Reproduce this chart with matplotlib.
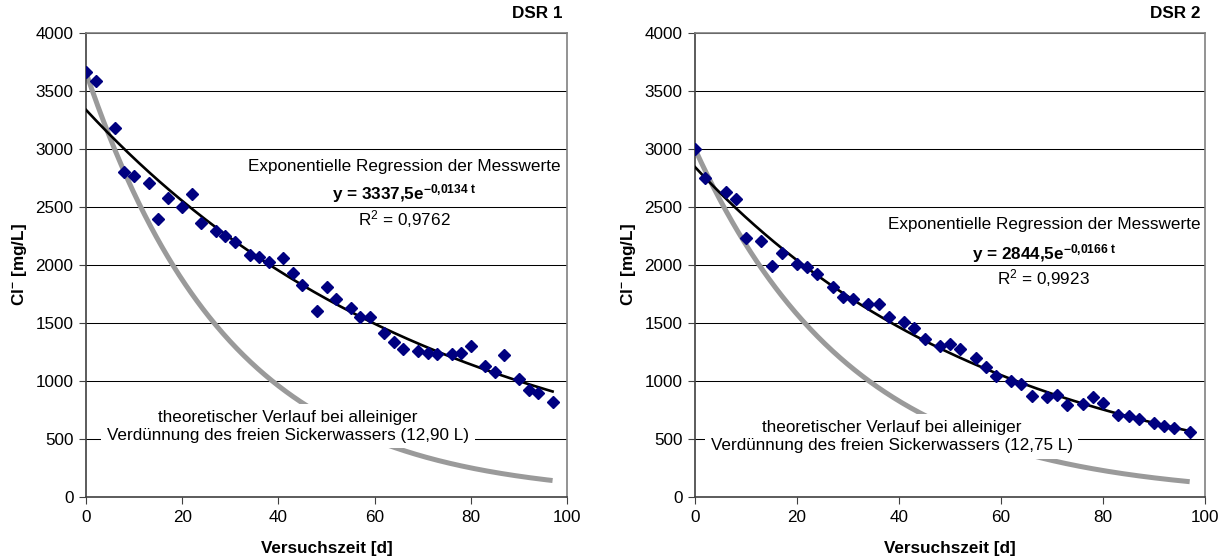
import numpy as np
import matplotlib
matplotlib.use('Agg')
import matplotlib.pyplot as plt

plt.rcParams['font.family'] = ['Liberation Sans', 'DejaVu Sans']
plt.rcParams['mathtext.fontset'] = 'custom'
plt.rcParams['mathtext.rm'] = 'Liberation Sans'
plt.rcParams['mathtext.it'] = 'Liberation Sans:italic'
plt.rcParams['mathtext.bf'] = 'Liberation Sans:bold'

# ---------------- data ----------------
t_days = [0, 2, 6, 8, 10, 13, 15, 17, 20, 22, 24, 27, 29, 31, 34, 36, 38, 41, 43, 45,
          48, 50, 52, 55, 57, 59, 62, 64, 66, 69, 71, 73, 76, 78, 80, 83, 85, 87, 90,
          92, 94, 97]

cl_dsr1 = [3660, 3590, 3180, 2800, 2770, 2710, 2400, 2580, 2500, 2610, 2360, 2290,
           2250, 2200, 2090, 2070, 2030, 2060, 1930, 1830, 1600, 1810, 1710, 1630,
           1550, 1550, 1410, 1340, 1280, 1260, 1240, 1235, 1235, 1240, 1300, 1130,
           1080, 1225, 1020, 925, 895, 815]

cl_dsr2 = [3000, 2750, 2630, 2570, 2230, 2210, 1990, 2100, 2010, 1980, 1925, 1810,
           1725, 1710, 1665, 1660, 1550, 1510, 1460, 1360, 1300, 1315, 1275, 1195,
           1120, 1040, 1000, 975, 870, 865, 880, 790, 800, 860, 810, 705, 695, 672,
           640, 615, 597, 563]

panel_titles = ['DSR 1', 'DSR 2']
fit_a = [3337.5, 2844.5]          # regression y = a * exp(-b t)
fit_b = [0.0134, 0.0166]
fit_a_txt = ['3337,5', '2844,5']
fit_b_txt = ['0{,}0134', '0{,}0166']
r2_txt = ['0,9762', '0,9923']
theo_c0 = [3660, 3000]            # theoretical dilution curve
theo_k = [0.0335, 0.0322]
volume_txt = ['12,90', '12,75']

x_ticks = [0, 20, 40, 60, 80, 100]
y_ticks = [0, 500, 1000, 1500, 2000, 2500, 3000, 3500, 4000]

x_label = 'Versuchszeit [d]'
y_label = r'Cl$^{\mathbf{-}}$ [mg/L]'

# label positions (data coordinates)
fit_label_pos = [(66.1, [2810, 2569, 2345]), (68.4, [2310, 2052, 1836])]
theo_label_pos = [(42.0, 612), (38.6, 521)]

# ---------------- figure ----------------
W, H = 1220, 558
fig = plt.figure(figsize=(W / 100, H / 100), dpi=100)
axes_px = [(86, 481), (695, 510)]
FS = 12.3

series = [cl_dsr1, cl_dsr2]
for i, (x0, w) in enumerate(axes_px):
    ax = fig.add_axes([x0 / W, 61 / H, w / W, 464 / H])
    ax.set_xlim(0, 100)
    ax.set_ylim(0, 4000)
    ax.set_xticks(x_ticks)
    ax.set_yticks(y_ticks)
    ax.tick_params(direction='out', length=5, width=0.8, color='#404040',
                   labelsize=FS, pad=4)
    ax.grid(axis='y', color='black', linewidth=0.75, zorder=0)
    ax.set_axisbelow(True)
    for s in ['top', 'right']:
        ax.spines[s].set_color('#808080')
        ax.spines[s].set_linewidth(1.2)
    for s in ['left', 'bottom']:
        ax.spines[s].set_color('#404040')
        ax.spines[s].set_linewidth(1.2)

    tt = np.linspace(0, t_days[-1], 400)
    ax.plot(tt, theo_c0[i] * np.exp(-theo_k[i] * tt), color='#9a9a9a',
            linewidth=3.6, zorder=2, solid_capstyle='butt')
    ax.plot(tt, fit_a[i] * np.exp(-fit_b[i] * tt), color='black',
            linewidth=1.9, zorder=3)
    ax.plot(t_days, series[i], linestyle='none', marker='D', markersize=6.3,
            color='#000080', markeredgecolor='#000080', zorder=4)

    ax.set_xlabel(x_label, fontsize=FS, fontweight='bold', labelpad=12)
    ax.set_ylabel(y_label, fontsize=FS, fontweight='bold', labelpad=5)

    ax.annotate(panel_titles[i], xy=(1, 1), xycoords='axes fraction',
                xytext=(-3, 11), textcoords='offset points', ha='right',
                va='baseline', fontsize=FS, fontweight='bold')

    fx, fys = fit_label_pos[i]
    ax.text(fx, fys[0], 'Exponentielle Regression der Messwerte', ha='center',
            va='baseline', fontsize=FS, zorder=6)
    ax.text(fx, fys[1], 'y = %se' % fit_a_txt[i]
            + r'$^{\mathbf{-%s\ t}}$' % fit_b_txt[i],
            ha='center', va='baseline', fontsize=FS, fontweight='bold', zorder=6)
    ax.text(fx, fys[2], r'R$^{2}$ = ' + r2_txt[i], ha='center', va='baseline',
            fontsize=FS, zorder=6)

    tx, ty = theo_label_pos[i]
    ax.text(tx, ty, 'theoretischer Verlauf bei alleiniger\n'
            'Verdünnung des freien Sickerwassers (%s L)' % volume_txt[i],
            ha='center', va='center', multialignment='center', fontsize=FS,
            linespacing=1.25, zorder=5,
            bbox=dict(facecolor='white', edgecolor='none', pad=4))

fig.savefig('out.png', dpi=100)
